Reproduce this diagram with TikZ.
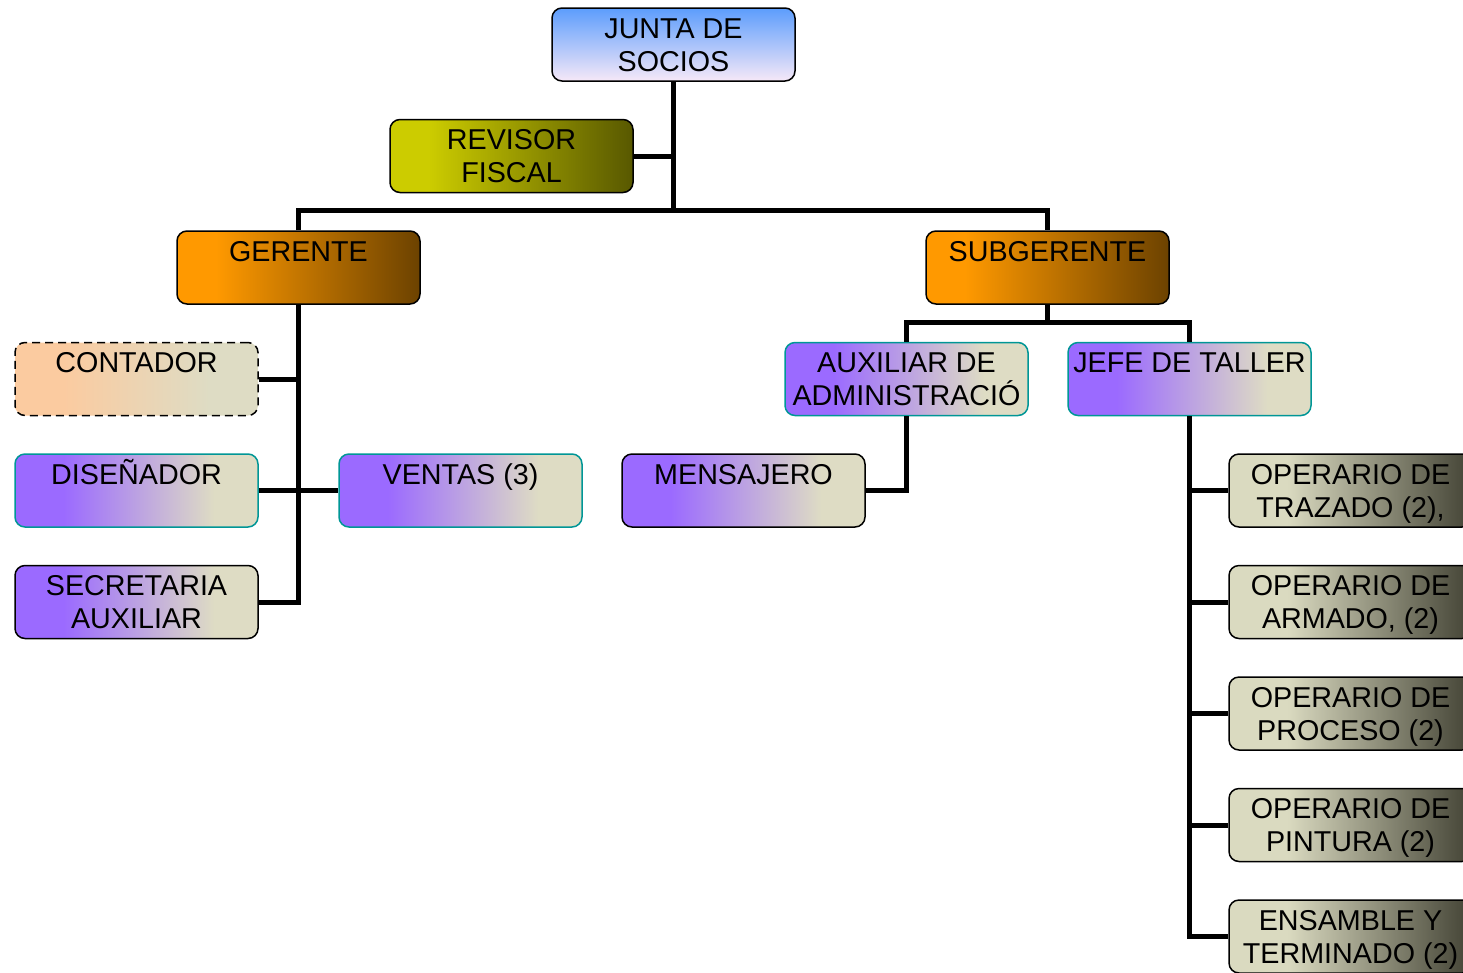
\documentclass[tikz,border=0pt]{standalone}
\usepackage{fontspec}
\setmainfont{Liberation Sans}

% box fills
\definecolor{juntaTop}{RGB}{92,157,252}
\definecolor{juntaBot}{RGB}{246,232,248}
\definecolor{olivA}{RGB}{204,204,0}
\definecolor{olivB}{RGB}{88,88,0}
\definecolor{orgA}{RGB}{255,153,0}
\definecolor{orgB}{RGB}{108,66,0}
\definecolor{peach}{RGB}{251,203,160}
\definecolor{sand}{RGB}{222,220,196}
\definecolor{lilac}{RGB}{155,106,255}
\definecolor{sandB}{RGB}{218,218,192}
\definecolor{slate}{RGB}{66,66,52}
\definecolor{tealedge}{RGB}{0,150,150}

\pgfdeclarehorizontalshading{olivefade}{100bp}{color(0bp)=(olivA); color(33bp)=(olivA); color(75bp)=(olivB); color(100bp)=(olivB)}
\pgfdeclarehorizontalshading{orangefade}{100bp}{color(0bp)=(orgA); color(33bp)=(orgA); color(75bp)=(orgB); color(100bp)=(orgB)}
\pgfdeclarehorizontalshading{peachfade}{100bp}{color(0bp)=(peach); color(35bp)=(peach); color(65bp)=(sand); color(100bp)=(sand)}
\pgfdeclarehorizontalshading{lilacfade}{100bp}{color(0bp)=(lilac); color(35bp)=(lilac); color(66bp)=(sand); color(100bp)=(sand)}
\pgfdeclarehorizontalshading{sandfade}{100bp}{color(0bp)=(sandB); color(37bp)=(sandB); color(75bp)=(slate); color(100bp)=(slate)}

% two text lines with fixed metrics, so every box sets them at the same height
\newcommand\boxtext[2]{\rule{0pt}{20pt}\smash{#1}\\\smash{#2}}

\begin{document}
\begin{tikzpicture}[x=1pt,y=-1pt,
  box/.style={rectangle, rounded corners=10pt, minimum width=243pt, minimum height=73pt,
    inner sep=0pt, align=center, font=\fontsize{28.7}{33}\selectfont,
    draw=black, line width=1.5pt},
  tealbox/.style={box, draw=tealedge},
  lilacbox/.style={shade, shading=lilacfade},
  sandbox/.style={box, shade, shading=sandfade},
  conn/.style={line width=5pt}]

\useasboundingbox (0,0) rectangle (1463,972);
\clip (0,0) rectangle (1463,972);

% top levels
\node[box, top color=juntaTop, bottom color=juntaBot] (junta) at (673.5,44.5) {\boxtext{JUNTA DE}{SOCIOS}};
\node[box, shade, shading=olivefade] (revisor) at (511.5,156) {\boxtext{REVISOR}{FISCAL}};
\node[box, shade, shading=orangefade] (gerente) at (298.5,267.5) {\boxtext{GERENTE}{}};
\node[box, shade, shading=orangefade] (subgerente) at (1047.5,267.5) {\boxtext{SUBGERENTE}{}};

% under the manager
\node[box, shade, shading=peachfade, dash pattern=on 8pt off 5pt] (contador) at (136.5,379) {\boxtext{CONTADOR}{}};
\node[tealbox, lilacbox] (disenador) at (136.5,490.5) {\boxtext{DISEÑADOR}{}};
\node[tealbox, lilacbox] (ventas) at (460.5,490.5) {\boxtext{VENTAS (3)}{}};
\node[box, lilacbox] (secretaria) at (136.5,602) {\boxtext{SECRETARIA}{AUXILIAR}};

% under the deputy manager
\node[tealbox, lilacbox] (auxiliar) at (906.5,379) {\boxtext{AUXILIAR DE}{ADMINISTRACIÓ}};
\node[tealbox, lilacbox] (jefe) at (1189.5,379) {\boxtext{JEFE DE TALLER}{}};
\node[box, lilacbox] (mensajero) at (743.5,490.5) {\boxtext{MENSAJERO}{}};

% workshop crew
\node[sandbox] (trazado) at (1350.5,490.5) {\boxtext{OPERARIO DE}{TRAZADO (2),}};
\node[sandbox] (armado) at (1350.5,602) {\boxtext{OPERARIO DE}{ARMADO, (2)}};
\node[sandbox] (proceso) at (1350.5,713.5) {\boxtext{OPERARIO DE}{PROCESO (2)}};
\node[sandbox] (pintura) at (1350.5,825) {\boxtext{OPERARIO DE}{PINTURA (2)}};
\node[sandbox] (ensamble) at (1350.5,936.5) {\boxtext{ENSAMBLE Y}{TERMINADO (2)}};

% connectors
\draw[conn] (junta.south) -- ++(0,130);
\draw[conn] (revisor.east) -- (revisor.east -| junta.south);
\draw[conn] (gerente.north) -- ++(0,-20) -| (subgerente.north);

\draw[conn] (gerente.south) |- (secretaria.east);
\draw[conn] (contador.east) -- (contador.east -| gerente.south);
\draw[conn] (disenador.east) -- (ventas.west);

\draw[conn] (subgerente.south) -- ++(0,19);
\draw[conn] (auxiliar.north) -- ++(0,-19) -| (jefe.north);
\draw[conn] (auxiliar.south) |- (mensajero.east);

\draw[conn] (jefe.south) |- (ensamble.west);
\foreach \n in {trazado,armado,proceso,pintura}
  \draw[conn] (\n.west) -- (\n.west -| jefe.south);
\end{tikzpicture}
\end{document}
